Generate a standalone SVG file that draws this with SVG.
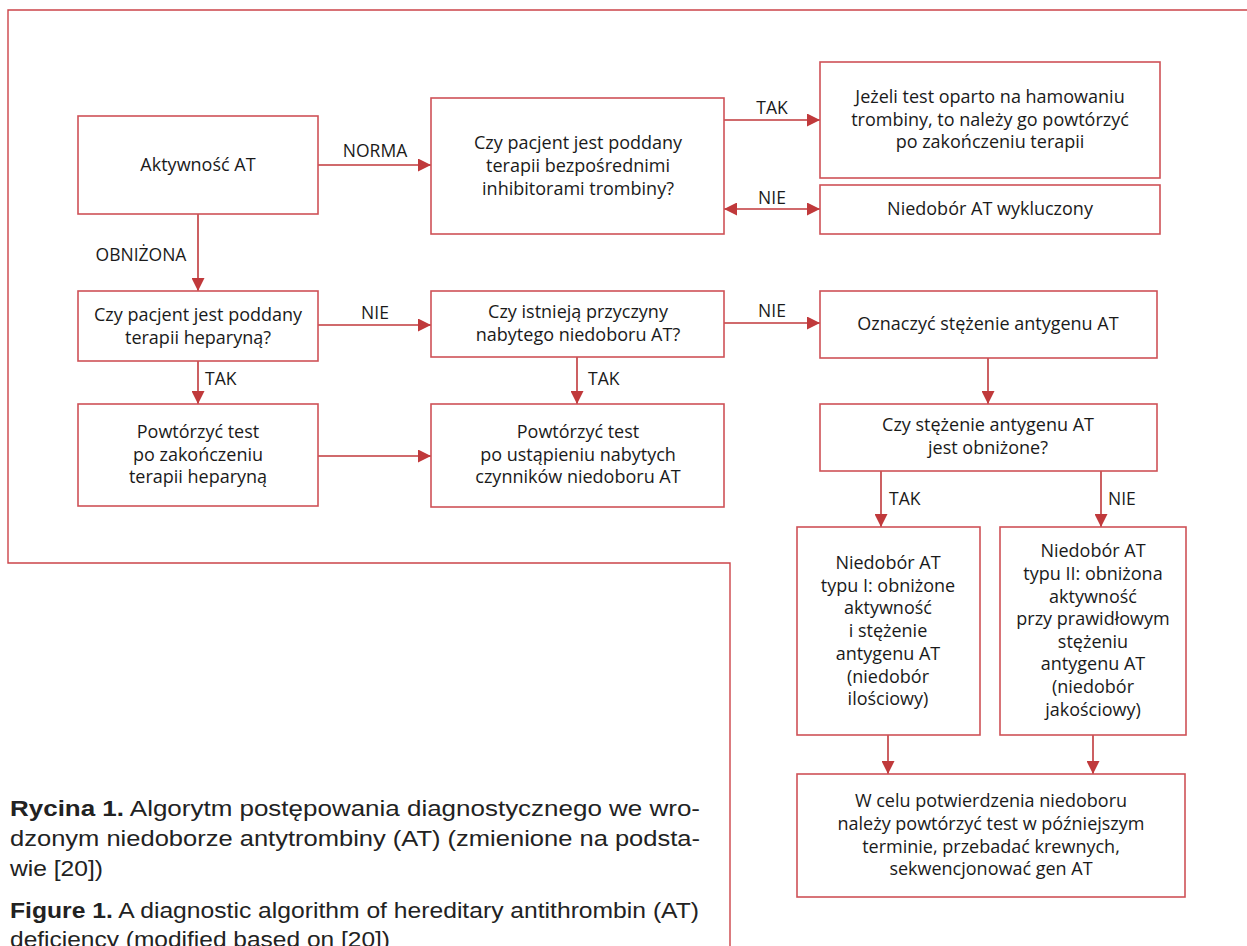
<svg xmlns="http://www.w3.org/2000/svg" width="1247" height="946" viewBox="0 0 1247 946">
<style>
.box{fill:#fff;stroke:#cf5257;stroke-width:1.6}
.frame{fill:none;stroke:#cc4449;stroke-width:1.4}
.con{fill:none;stroke:#c0393b;stroke-width:1.6}
.t{font-family:"Open Sans","Noto Sans",sans-serif;font-size:18px;fill:#1a1a1a;text-anchor:middle}
.lab{font-family:"Open Sans","Noto Sans",sans-serif;font-size:17.5px;fill:#1a1a1a}
.cap{font-family:"Liberation Sans",Arial,sans-serif;font-size:22.5px;fill:#222}
.b{font-weight:bold}
</style>
<defs>
<marker id="ah" markerUnits="userSpaceOnUse" markerWidth="13" markerHeight="13" refX="12" refY="6" orient="auto-start-reverse" viewBox="0 0 12 12">
<path d="M0,0 L12,6 L0,12 z" fill="#c0393b"/>
</marker>
</defs>
<rect width="1247" height="946" fill="#fff"/>
<path class="frame" d="M1247,10 H8 V563 H730 V946"/>

<g id="connectors">
<line class="con" x1="318" y1="165" x2="431" y2="165" marker-end="url(#ah)"/>
<line class="con" x1="198" y1="214" x2="198" y2="291" marker-end="url(#ah)"/>
<line class="con" x1="724" y1="120" x2="820" y2="120" marker-end="url(#ah)"/>
<line class="con" x1="724" y1="209" x2="820" y2="209" marker-start="url(#ah)" marker-end="url(#ah)"/>
<line class="con" x1="318" y1="325" x2="431" y2="325" marker-end="url(#ah)"/>
<line class="con" x1="724" y1="323" x2="820" y2="323" marker-end="url(#ah)"/>
<line class="con" x1="198" y1="361" x2="198" y2="404" marker-end="url(#ah)"/>
<line class="con" x1="577" y1="357" x2="577" y2="404" marker-end="url(#ah)"/>
<line class="con" x1="318" y1="456" x2="431" y2="456" marker-end="url(#ah)"/>
<line class="con" x1="988" y1="358" x2="988" y2="404" marker-end="url(#ah)"/>
<line class="con" x1="881" y1="471" x2="881" y2="527" marker-end="url(#ah)"/>
<line class="con" x1="1101" y1="471" x2="1101" y2="527" marker-end="url(#ah)"/>
<line class="con" x1="888" y1="735" x2="888" y2="774" marker-end="url(#ah)"/>
<line class="con" x1="1093" y1="735" x2="1093" y2="774" marker-end="url(#ah)"/>
<text class="lab" x="375" y="157" text-anchor="middle">NORMA</text>
<text class="lab" x="141" y="261" text-anchor="middle">OBNIŻONA</text>
<text class="lab" x="772" y="114" text-anchor="middle">TAK</text>
<text class="lab" x="772" y="204" text-anchor="middle">NIE</text>
<text class="lab" x="375" y="319" text-anchor="middle">NIE</text>
<text class="lab" x="772" y="317" text-anchor="middle">NIE</text>
<text class="lab" x="205" y="385">TAK</text>
<text class="lab" x="588" y="385">TAK</text>
<text class="lab" x="889" y="505">TAK</text>
<text class="lab" x="1108" y="505">NIE</text>
</g>

<g id="n1"><rect class="box" x="78" y="116" width="240" height="98"/>
<text class="t" x="198" y="171">Aktywność AT</text></g>

<g id="n2"><rect class="box" x="431" y="98" width="293" height="136"/>
<text class="t" x="578" y="149">Czy pacjent jest poddany</text>
<text class="t" x="578" y="172">terapii bezpośrednimi</text>
<text class="t" x="578" y="195">inhibitorami trombiny?</text></g>

<g id="n3"><rect class="box" x="820" y="62" width="340" height="116"/>
<text class="t" x="990" y="103">Jeżeli test oparto na hamowaniu</text>
<text class="t" x="990" y="126">trombiny, to należy go powtórzyć</text>
<text class="t" x="990" y="148">po zakończeniu terapii</text></g>

<g id="n4"><rect class="box" x="820" y="185" width="340" height="49"/>
<text class="t" x="990" y="215">Niedobór AT wykluczony</text></g>

<g id="n5"><rect class="box" x="78" y="291" width="240" height="70"/>
<text class="t" x="198" y="321">Czy pacjent jest poddany</text>
<text class="t" x="198" y="344">terapii heparyną?</text></g>

<g id="n6"><rect class="box" x="431" y="291" width="293" height="66"/>
<text class="t" x="578" y="318">Czy istnieją przyczyny</text>
<text class="t" x="578" y="341">nabytego niedoboru AT?</text></g>

<g id="n7"><rect class="box" x="820" y="291" width="337" height="67"/>
<text class="t" x="988" y="330">Oznaczyć stężenie antygenu AT</text></g>

<g id="n8"><rect class="box" x="78" y="404" width="240" height="102"/>
<text class="t" x="198" y="438">Powtórzyć test</text>
<text class="t" x="198" y="461">po zakończeniu</text>
<text class="t" x="198" y="483">terapii heparyną</text></g>

<g id="n9"><rect class="box" x="431" y="404" width="293" height="103"/>
<text class="t" x="578" y="438">Powtórzyć test</text>
<text class="t" x="578" y="461">po ustąpieniu nabytych</text>
<text class="t" x="578" y="483">czynników niedoboru AT</text></g>

<g id="n10"><rect class="box" x="820" y="404" width="337" height="67"/>
<text class="t" x="988" y="431">Czy stężenie antygenu AT</text>
<text class="t" x="988" y="454">jest obniżone?</text></g>

<g id="n11"><rect class="box" x="797" y="527" width="183" height="208"/>
<text class="t" x="888" y="569">Niedobór AT</text>
<text class="t" x="888" y="592">typu I: obniżone</text>
<text class="t" x="888" y="614">aktywność</text>
<text class="t" x="888" y="637">i stężenie</text>
<text class="t" x="888" y="660">antygenu AT</text>
<text class="t" x="888" y="683">(niedobór</text>
<text class="t" x="888" y="705">ilościowy)</text></g>

<g id="n12"><rect class="box" x="1000" y="527" width="186" height="208"/>
<text class="t" x="1093" y="557">Niedobór AT</text>
<text class="t" x="1093" y="580">typu II: obniżona</text>
<text class="t" x="1093" y="603">aktywność</text>
<text class="t" x="1093" y="625">przy prawidłowym</text>
<text class="t" x="1093" y="648">stężeniu</text>
<text class="t" x="1093" y="670">antygenu AT</text>
<text class="t" x="1093" y="693">(niedobór</text>
<text class="t" x="1093" y="716">jakościowy)</text></g>

<g id="n13"><rect class="box" x="797" y="774" width="388" height="123"/>
<text class="t" x="991" y="807">W celu potwierdzenia niedoboru</text>
<text class="t" x="991" y="830">należy powtórzyć test w późniejszym</text>
<text class="t" x="991" y="853">terminie, przebadać krewnych,</text>
<text class="t" x="991" y="875">sekwencjonować gen AT</text></g>

<g id="caption">
<text class="cap" x="10" y="816" textLength="690" lengthAdjust="spacingAndGlyphs"><tspan class="b">Rycina 1.</tspan> Algorytm postępowania diagnostycznego we wro-</text>
<text class="cap" x="10" y="846" textLength="690" lengthAdjust="spacingAndGlyphs">dzonym niedoborze antytrombiny (AT) (zmienione na podsta-</text>
<text class="cap" x="10" y="876" textLength="93" lengthAdjust="spacingAndGlyphs">wie [20])</text>
<text class="cap" x="10" y="918" textLength="689" lengthAdjust="spacingAndGlyphs"><tspan class="b">Figure 1.</tspan> A diagnostic algorithm of hereditary antithrombin (AT)</text>
<text class="cap" x="10" y="947" textLength="380" lengthAdjust="spacingAndGlyphs">deficiency (modified based on [20])</text>
</g>
</svg>
